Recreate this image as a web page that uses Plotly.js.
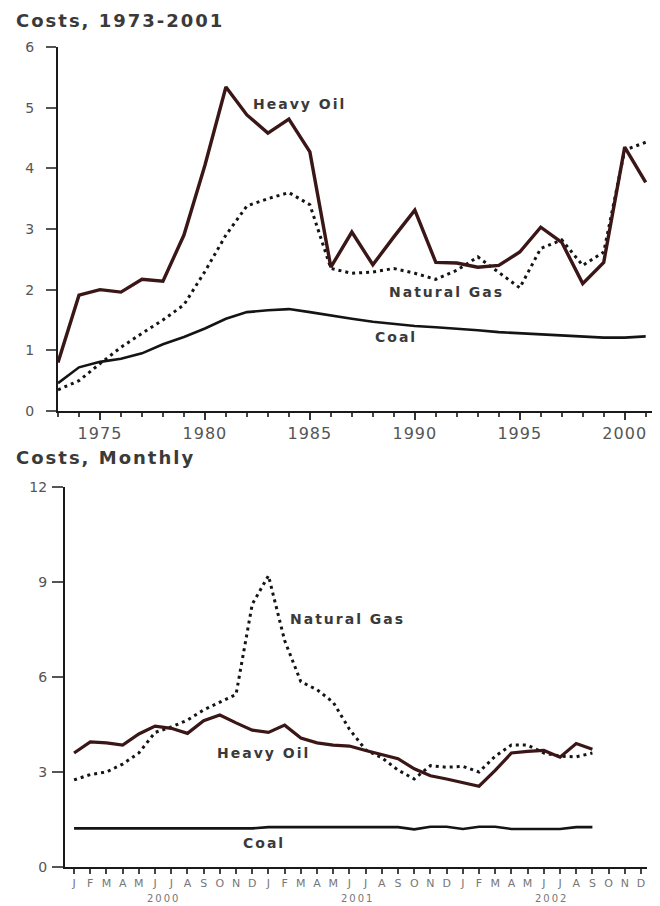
<!DOCTYPE html>
<html>
<head>
<meta charset="utf-8">
<script src="https://cdn.plot.ly/plotly-3.0.1.min.js"></script>
<style>
html, body { margin: 0; padding: 0; background: #fff; }
#chart { width: 660px; height: 906px; }
.annotation-text { letter-spacing: 2px; }
.xtick text { letter-spacing: 1px; }
</style>
</head>
<body>
<div id="chart"></div>
<script>
// ---- Annual data, 1973-2001 ----
const years = [1973, 1974, 1975, 1976, 1977, 1978, 1979, 1980, 1981, 1982,
               1983, 1984, 1985, 1986, 1987, 1988, 1989, 1990, 1991, 1992,
               1993, 1994, 1995, 1996, 1997, 1998, 1999, 2000, 2001];
const heavyOilAnnual = [0.80, 1.91, 2.00, 1.96, 2.17, 2.14, 2.90, 4.05, 5.34, 4.88,
                        4.58, 4.81, 4.27, 2.37, 2.95, 2.41, 2.87, 3.31, 2.45, 2.44,
                        2.37, 2.40, 2.62, 3.03, 2.78, 2.10, 2.45, 4.35, 3.77];
const naturalGasAnnual = [0.35, 0.50, 0.78, 1.05, 1.28, 1.50, 1.75, 2.30, 2.90, 3.38,
                          3.50, 3.60, 3.40, 2.35, 2.27, 2.29, 2.35, 2.27, 2.17, 2.32,
                          2.54, 2.29, 2.03, 2.68, 2.82, 2.40, 2.62, 4.30, 4.43];
const coalAnnual = [0.46, 0.72, 0.81, 0.86, 0.95, 1.10, 1.22, 1.36, 1.52, 1.63,
                    1.66, 1.68, 1.63, 1.57, 1.52, 1.47, 1.43, 1.40, 1.38, 1.36,
                    1.33, 1.30, 1.28, 1.27, 1.25, 1.23, 1.21, 1.21, 1.23];
const annualTickVals = [1975, 1980, 1985, 1990, 1995, 2000];
const annualTickText = ['1975', '1980', '1985', '1990', '1995', '2000'];

// ---- Monthly data, Jan 2000 - Dec 2002 ----
const months = ['2000-01','2000-02','2000-03','2000-04','2000-05','2000-06',
                '2000-07','2000-08','2000-09','2000-10','2000-11','2000-12',
                '2001-01','2001-02','2001-03','2001-04','2001-05','2001-06',
                '2001-07','2001-08','2001-09','2001-10','2001-11','2001-12',
                '2002-01','2002-02','2002-03','2002-04','2002-05','2002-06',
                '2002-07','2002-08','2002-09','2002-10','2002-11','2002-12'];
const monthLetters = ['J','F','M','A','M','J','J','A','S','O','N','D',
                      'J','F','M','A','M','J','J','A','S','O','N','D',
                      'J','F','M','A','M','J','J','A','S','O','N','D'];
const heavyOilMonthly = [3.60, 3.95, 3.92, 3.85, 4.20, 4.45, 4.38, 4.22, 4.62, 4.80, 4.55, 4.32,
                         4.25, 4.48, 4.07, 3.92, 3.85, 3.82, 3.68, 3.55, 3.42, 3.10, 2.88, 2.78,
                         2.67, 2.55, 3.05, 3.60, 3.65, 3.68, 3.47, 3.90, 3.72, null, null, null];
const naturalGasMonthly = [2.75, 2.92, 3.00, 3.25, 3.60, 4.25, 4.42, 4.64, 4.96, 5.20, 5.45, 8.30,
                           9.20, 7.15, 5.85, 5.60, 5.20, 4.35, 3.70, 3.45, 3.06, 2.78, 3.20, 3.15,
                           3.18, 3.00, 3.50, 3.85, 3.85, 3.60, 3.50, 3.48, 3.60, null, null, null];
const coalMonthly = [1.22, 1.22, 1.22, 1.22, 1.22, 1.22, 1.22, 1.22, 1.22, 1.22, 1.22, 1.22,
                     1.26, 1.26, 1.26, 1.26, 1.26, 1.26, 1.26, 1.26, 1.26, 1.19, 1.27, 1.27,
                     1.20, 1.27, 1.27, 1.20, 1.20, 1.20, 1.20, 1.26, 1.26, null, null, null];
const yearLabels = ['2000', '2001', '2002'];
const yearLabelPos = [5.5, 17.5, 29.5];

const monthIdx = months.map((m, i) => i);

const FONT = 'DejaVu Sans, Arial, sans-serif';
const oilColor = '#3a1616';
const ink = '#141414';

const traces = [
  { x: years, y: coalAnnual, xaxis: 'x', yaxis: 'y', mode: 'lines',
    line: { color: ink, width: 2.6 }, name: 'Coal' },
  { x: years, y: naturalGasAnnual, xaxis: 'x', yaxis: 'y', mode: 'lines',
    line: { color: ink, width: 3, dash: '3px,4px' }, name: 'Natural Gas' },
  { x: years, y: heavyOilAnnual, xaxis: 'x', yaxis: 'y', mode: 'lines',
    line: { color: oilColor, width: 3.4 }, name: 'Heavy Oil' },

  { x: monthIdx, y: coalMonthly, xaxis: 'x2', yaxis: 'y2', mode: 'lines',
    line: { color: ink, width: 2.6 }, name: 'Coal' },
  { x: monthIdx, y: naturalGasMonthly, xaxis: 'x2', yaxis: 'y2', mode: 'lines',
    line: { color: ink, width: 3, dash: '3px,4px' }, name: 'Natural Gas' },
  { x: monthIdx, y: heavyOilMonthly, xaxis: 'x2', yaxis: 'y2', mode: 'lines',
    line: { color: oilColor, width: 3.2 }, name: 'Heavy Oil' }
];

const W = 660, H = 906;
const px = v => v / W;
const py = v => (H - v) / H;

const labelFont = { family: FONT, size: 14, color: '#3a3a3a', weight: 'bold' };
const titleFont = { family: FONT, size: 18, color: '#3a3a3a', weight: 'bold' };

const annotations = [
  { text: 'Costs, 1973-2001', xref: 'paper', yref: 'paper', x: px(14), y: py(20),
    xanchor: 'left', yanchor: 'middle', showarrow: false, font: titleFont },
  { text: 'Costs, Monthly', xref: 'paper', yref: 'paper', x: px(14), y: py(457),
    xanchor: 'left', yanchor: 'middle', showarrow: false, font: titleFont },

  { text: 'Heavy Oil', xref: 'x', yref: 'y', x: 1984.5, y: 5.06, showarrow: false, font: labelFont },
  { text: 'Natural Gas', xref: 'x', yref: 'y', x: 1991.5, y: 1.96, showarrow: false, font: labelFont },
  { text: 'Coal', xref: 'x', yref: 'y', x: 1989.1, y: 1.22, showarrow: false, font: labelFont },

  { text: 'Natural Gas', xref: 'x2', yref: 'y2', x: 16.85, y: 7.83, showarrow: false, font: labelFont },
  { text: 'Heavy Oil', xref: 'x2', yref: 'y2', x: 11.7, y: 3.6, showarrow: false, font: labelFont },
  { text: 'Coal', xref: 'x2', yref: 'y2', x: 11.7, y: 0.76, showarrow: false, font: labelFont }
];
yearLabels.forEach((t, i) => {
  annotations.push({ text: t, xref: 'x2', yref: 'paper', x: yearLabelPos[i], y: py(898),
    xanchor: 'center', yanchor: 'middle', showarrow: false, borderpad: 0,
    font: { family: FONT, size: 10, color: '#777' } });
});

const layout = {
  width: W, height: H,
  margin: { l: 0, r: 0, t: 0, b: 0, pad: 0 },
  paper_bgcolor: '#fff', plot_bgcolor: '#fff',
  showlegend: false,
  xaxis: {
    domain: [px(58), px(652)], anchor: 'y',
    range: [1973, 2001.3], showgrid: false, zeroline: false,
    showline: true, linecolor: '#1a1a1a', linewidth: 2,
    ticks: 'outside', ticklen: 7, tickwidth: 2, tickcolor: '#333',
    tickvals: annualTickVals, ticktext: annualTickText,
    tickfont: { family: FONT, size: 16, color: '#555' },
    ticklabelstandoff: 0,
    minor: { tickmode: 'linear', tick0: 1973, dtick: 1, ticks: 'outside', ticklen: 4, tickwidth: 2, tickcolor: '#444', showgrid: false }
  },
  yaxis: {
    domain: [py(411), py(47)], anchor: 'x',
    range: [0, 6], showgrid: false, zeroline: false,
    showline: true, linecolor: '#1a1a1a', linewidth: 2,
    ticks: 'outside', ticklen: 10, tickwidth: 2, tickcolor: '#555',
    tickvals: [0, 1, 2, 3, 4, 5, 6],
    tickfont: { family: FONT, size: 14, color: '#555' },
    ticklabelstandoff: 9
  },
  xaxis2: {
    domain: [px(65), px(647)], anchor: 'y2',
    range: [-0.56, 35.37], showgrid: false, zeroline: false,
    showline: true, linecolor: '#1a1a1a', linewidth: 2,
    ticks: 'outside', ticklen: 5, tickwidth: 2, tickcolor: '#444',
    tickvals: monthIdx, ticktext: monthLetters,
    tickfont: { family: FONT, size: 11, color: '#777' },
    ticklabelstandoff: 0
  },
  yaxis2: {
    domain: [py(867), py(487)], anchor: 'x2',
    range: [0, 12], showgrid: false, zeroline: false,
    showline: true, linecolor: '#1a1a1a', linewidth: 2,
    ticks: 'outside', ticklen: 11, tickwidth: 2, tickcolor: '#555',
    tickvals: [0, 3, 6, 9, 12],
    tickfont: { family: FONT, size: 14, color: '#555' },
    ticklabelstandoff: 2
  },
  annotations: annotations
};

Plotly.newPlot('chart', traces, layout, { staticPlot: true, displayModeBar: false });
</script>
</body>
</html>
